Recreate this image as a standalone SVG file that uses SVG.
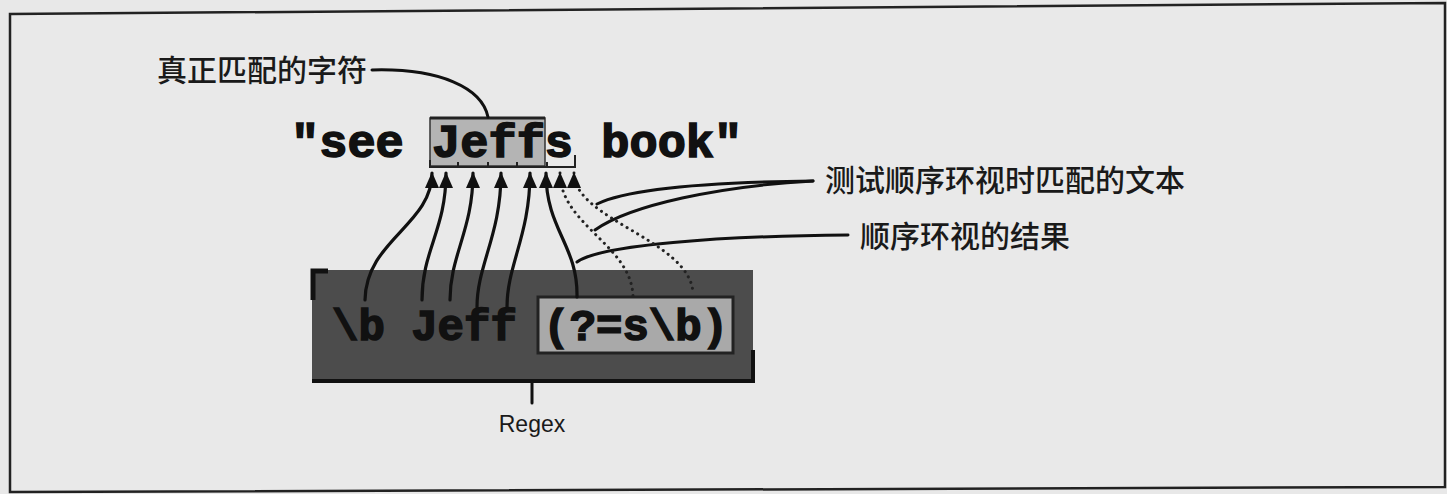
<svg xmlns="http://www.w3.org/2000/svg" width="1447" height="494" viewBox="0 0 1447 494">
<defs>
<style>
.mono{font-family:"Liberation Mono","DejaVu Sans Mono",monospace;font-weight:bold;fill:#111;stroke:#111;stroke-width:1.6;}
.cjk{font-family:"Noto Sans CJK SC","Noto Sans CJK JP",sans-serif;font-size:30px;font-weight:500;fill:#1a1a1a;}
.lbl{font-family:"Liberation Sans",Arial,sans-serif;font-size:23px;fill:#1a1a1a;}
.ln{fill:none;stroke:#111;stroke-width:3;stroke-linecap:round;}
.ar{fill:none;stroke:#111;stroke-width:3.2;stroke-linecap:round;marker-start:url(#ah);}
.dot{fill:none;stroke:#222;stroke-width:3;stroke-linecap:round;stroke-dasharray:0.1 6;marker-start:url(#ah);}
</style>
<marker id="ah" markerUnits="userSpaceOnUse" markerWidth="16" markerHeight="14" refX="15" refY="7" orient="auto-start-reverse" viewBox="0 0 16 14">
<path d="M0,0 L16,7 L0,14 z" fill="#111"/>
</marker>
</defs>
<rect width="1447" height="494" fill="#e8e8e8"/>
<path d="M10,14 L1445,3 L1445,487 L10,492 Z" fill="#e9e9e9" stroke="#222" stroke-width="2.5"/>

<g id="target">
<rect x="430" y="118" width="115" height="48" fill="#b4b4b4" stroke="#333" stroke-width="1.5"/>
<path d="M430,118 L545,118" stroke="#222" stroke-width="3"/>
<text class="mono" x="291" y="157" font-size="47">"see Jeffs book"</text>
<path d="M430,160 L430,167 L575,167 L575,155 M458,162 L458,167 M488,162 L488,167 M517,162 L517,167 M547,162 L547,167" fill="none" stroke="#222" stroke-width="2"/>
</g>

<g id="regex">
<rect x="312" y="270" width="441" height="112" fill="#4c4c4c"/>
<path d="M313,300 L313,271 L328,271" fill="none" stroke="#111" stroke-width="5"/>
<path d="M312,381 L753,381 L753,350" fill="none" stroke="#111" stroke-width="4"/>
<rect x="538" y="297" width="195" height="56" fill="#a9a9a9" stroke="#222" stroke-width="3"/>
<text class="mono" x="332" y="340" font-size="44">\b Jeff (?=s\b)</text>
</g>

<g id="regex-label">
<path class="ln" d="M532,382 L532,403" stroke-width="2"/>
<text class="lbl" x="532" y="432" text-anchor="middle">Regex</text>
</g>

<g id="label-match">
<text class="cjk" x="157" y="81">真正匹配的字符</text>
</g>
<g id="label-test">
<text class="cjk" x="825" y="191">测试顺序环视时匹配的文本</text>
</g>
<g id="label-result">
<text class="cjk" x="860" y="247">顺序环视的结果</text>
</g>

<g id="connectors">
<path class="ln" d="M372,70 C440,68 482,88 488,117"/>
<path class="ln" d="M813,181 C720,182 630,188 597,204"/>
<path class="ln" d="M813,181 C720,186 630,205 595,230"/>
<path class="ln" d="M848,235 C720,236 600,245 577,262"/>
<path class="ar" d="M432,173 C432,225 366,240 365,300"/>
<path class="ar" d="M446,173 C446,230 422,250 422,300"/>
<path class="ar" d="M473,173 C473,230 450,255 450,300"/>
<path class="ar" d="M501,173 C501,235 477,265 477,307"/>
<path class="ar" d="M530,173 C530,235 507,265 507,307"/>
<path class="ar" d="M546,173 C546,230 578,245 577,297"/>
<path class="dot" d="M560,173 C560,225 632,245 633,297"/>
<path class="dot" d="M574,173 C574,220 690,240 693,293"/>
</g>
</svg>
